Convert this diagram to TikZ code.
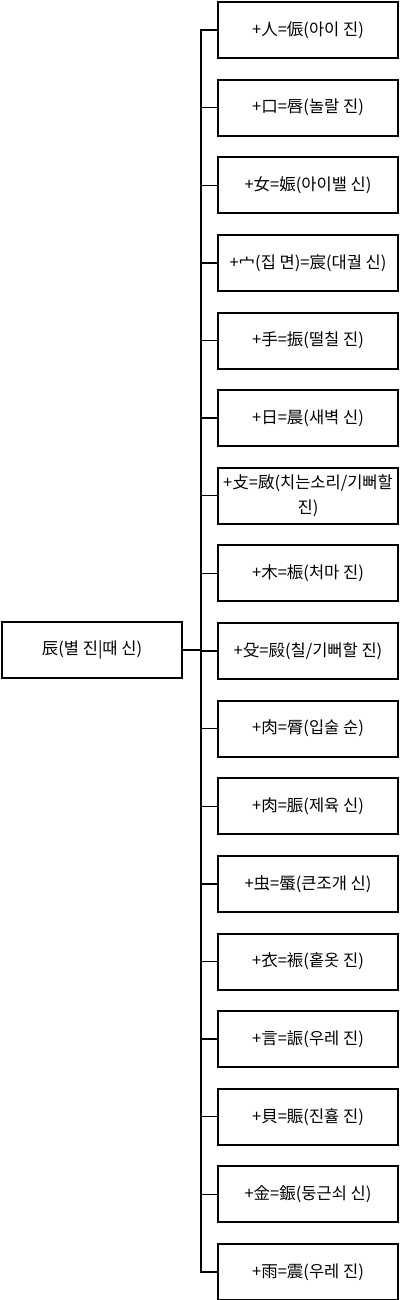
\documentclass[tikz,border=0pt]{standalone}
\usepackage{fontspec}
\setmainfont{Noto Sans CJK KR}
\begin{document}
\begin{tikzpicture}[x=1pt,y=-1pt,
  box/.style={draw=black,line width=2pt,minimum width=180pt,minimum height=56pt,inner sep=0pt,align=center,font=\fontsize{16.5pt}{25pt}\selectfont},
  link/.style={draw=black,line width=1.4pt}]
\useasboundingbox (0,0) rectangle (400,1300);
\node[box] (L) at (92,650) {辰(별 진|때 신)};
\foreach \i/\t in {0/{+人=侲(아이 진)},1/{+口=唇(놀랄 진)},2/{+女=娠(아이밸 신)},3/{+宀(집 면)=宸(대궐 신)},4/{+手=振(떨칠 진)},5/{+日=晨(새벽 신)},6/{+攴=敐(치는소리/기뻐할\\진)},7/{+木=桭(처마 진)},8/{+殳=㲀(칠/기뻐할 진)},9/{+肉=脣(입술 순)},10/{+肉=脤(제육 신)},11/{+虫=蜃(큰조개 신)},12/{+衣=裖(홑옷 진)},13/{+言=誫(우레 진)},14/{+貝=賑(진휼 진)},15/{+金=鋠(둥근쇠 신)},16/{+雨=震(우레 진)}}{
  \node[box] (R\i) at (308,{30+77.625*\i}) {\t};
  \draw[link] (L.east) -- ++(18,0) |- (R\i.west);
}
\end{tikzpicture}
\end{document}
